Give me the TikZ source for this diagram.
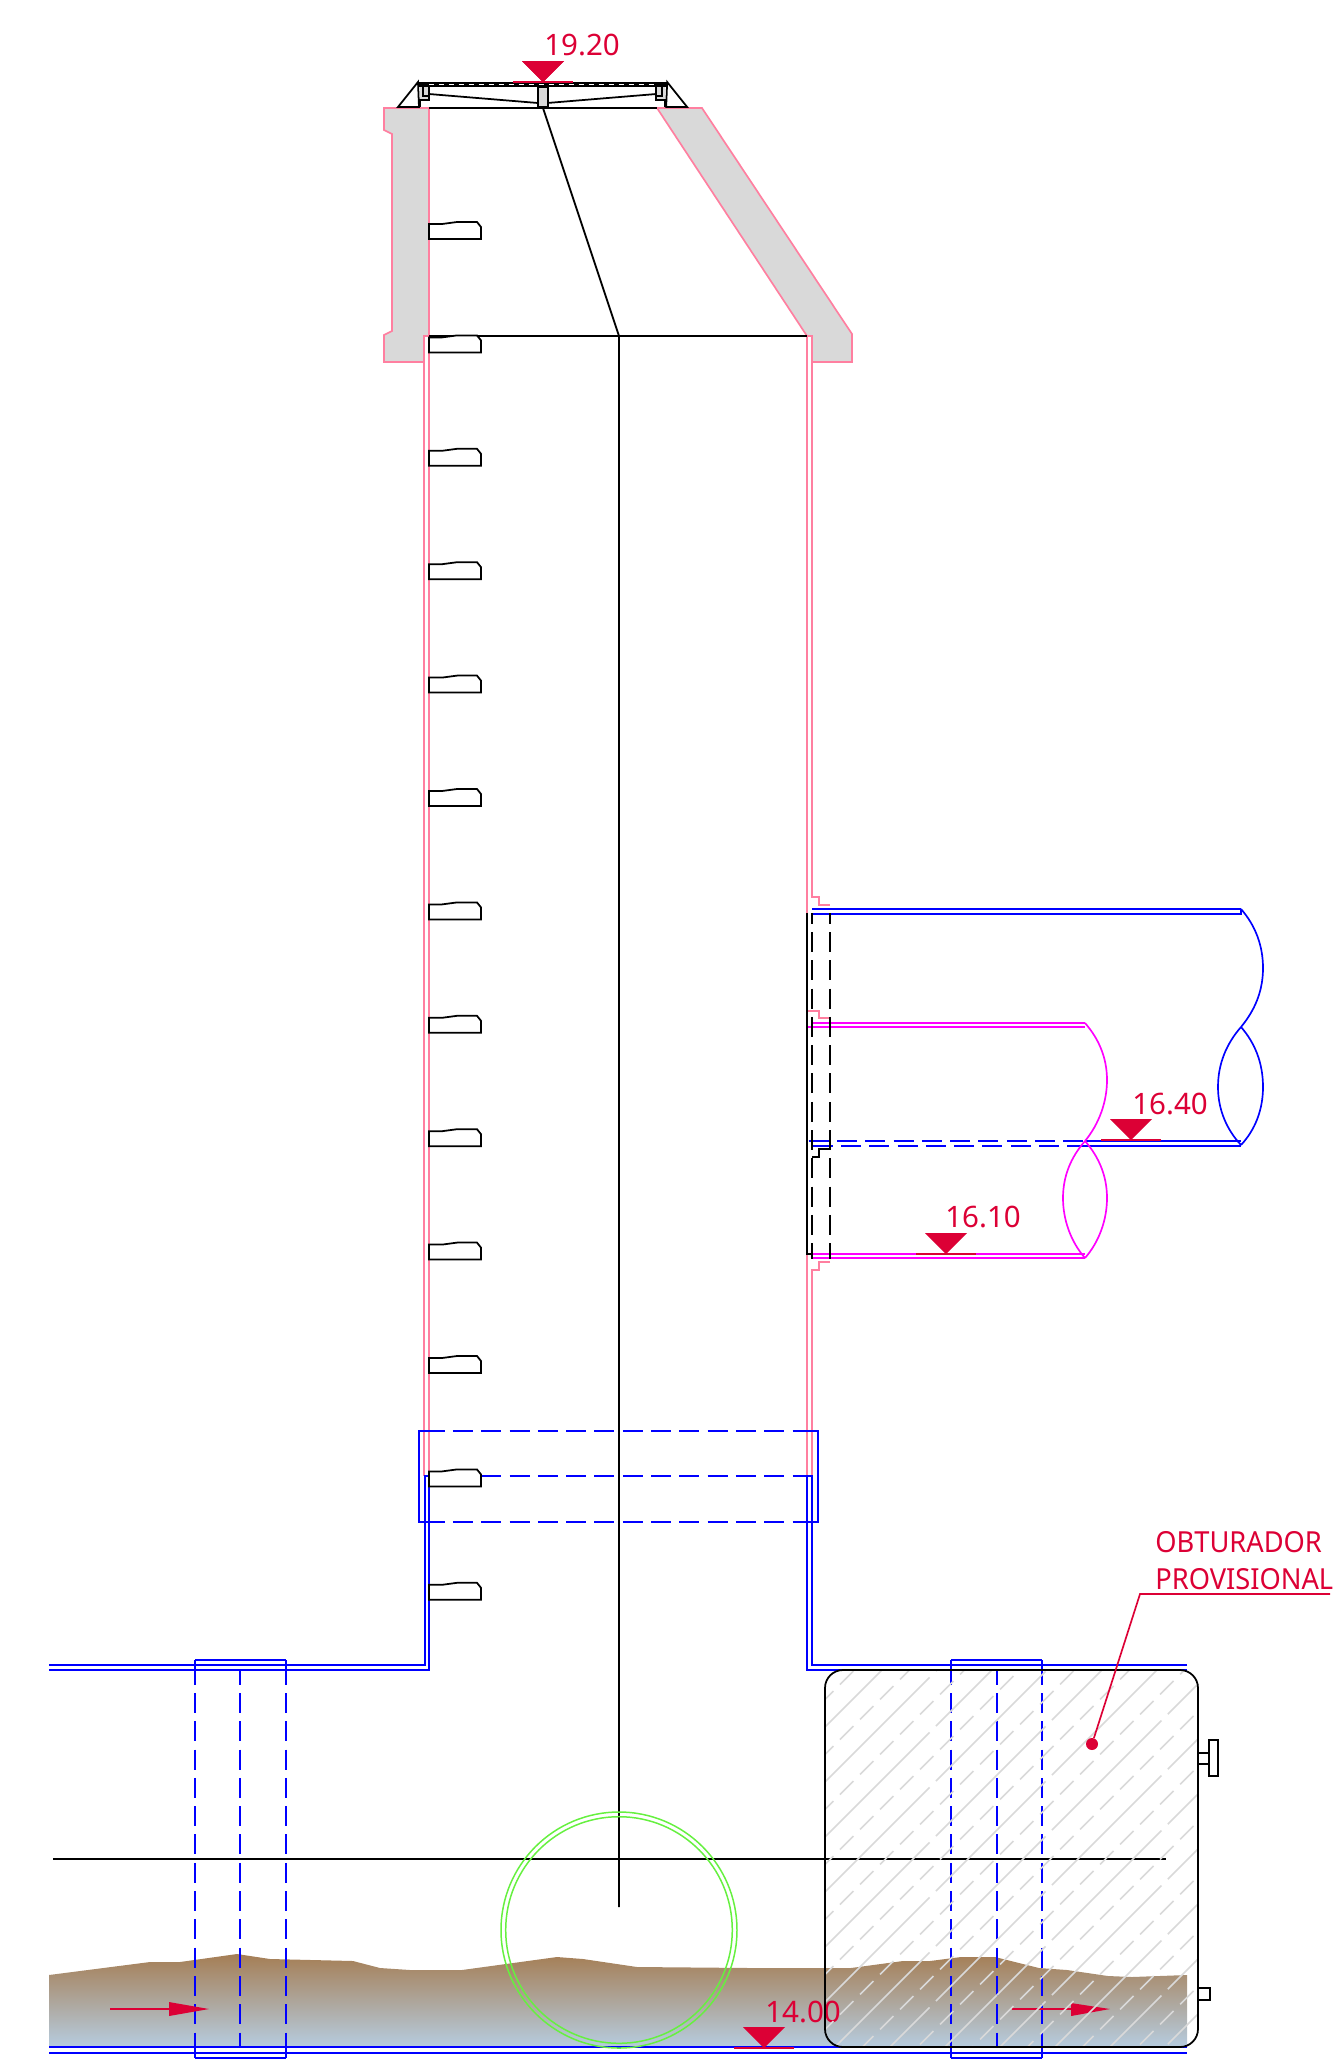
\documentclass[tikz,border=0pt]{standalone}
\usepackage{fontspec}
\setmainfont{Noto Sans}
\newfontfamily\plugfont[FakeStretch=0.94]{Noto Sans}
\definecolor{levelred}{HTML}{DC0035}
\definecolor{wallpink}{HTML}{FF7FA0}
\definecolor{concrete}{HTML}{D9D9D9}
\definecolor{pipeblue}{HTML}{0000FF}
\definecolor{pipemagenta}{HTML}{FF00FF}
\definecolor{ringgreen}{HTML}{66F040}
\definecolor{hatchgray}{HTML}{D9D9D9}
\definecolor{groundtop}{HTML}{A57E55}
\definecolor{groundmid}{HTML}{AEB0A8}
\definecolor{groundbot}{HTML}{B6CCDF}
\tikzset{
  wall/.style={wallpink, line width=0.95pt},
  pipe/.style={pipeblue, line width=0.95pt},
  branch/.style={pipemagenta, line width=0.95pt},
  blk/.style={black, line width=1pt},
  rung/.style={blk, fill=white},
  longdash/.style={dash pattern=on 0.4cm off 0.166cm},
  hatchlong/.style={hatchgray, line width=0.9pt, dash pattern=on 3.1cm off 0.18cm},
  hatchshort/.style={hatchgray, line width=0.9pt, dash pattern=on 0.38cm off 0.186cm},
  leveltext/.style={levelred, anchor=base west, inner sep=0pt, font=\fontsize{16.8pt}{20pt}\selectfont},
  plugtext/.style={levelred, anchor=base west, inner sep=0pt, font=\plugfont\fontsize{16.5pt}{20pt}\selectfont},
}
\begin{document}
\begin{tikzpicture}[x=0.02cm, y=-0.02cm]
\useasboundingbox (0,0) rectangle (1336,2067);
% Ground and water
\shade[top color=groundtop, middle color=groundmid, bottom color=groundbot] (49,1975) -- (150,1962) -- (180,1962) -- (237,1954) -- (270,1959) -- (353,1961) -- (380,1968) -- (410,1970) -- (462,1970) -- (557,1957) -- (583,1959) -- (637,1967) -- (750,1968) -- (851,1968) -- (903,1961) -- (930,1961) -- (961,1957) -- (995,1957) -- (1039,1968) -- (1067,1970) -- (1108,1976) -- (1132,1977) -- (1187,1975) -- (1187,2047) -- (49,2047) -- cycle;
% Concrete top pieces
\draw[wall, fill=concrete] (429,108) -- (384,108) -- (384,130) -- (392,134) -- (392,331) -- (384,335) -- (384,362) -- (424,362) -- (424,336) -- (429,336) -- cycle;
\draw[wall, fill=concrete] (657,108) -- (702,108) -- (852,334) -- (852,362) -- (812,362) -- (812,336) -- (807,336) -- cycle;
% Shaft walls
\draw[wall] (424,362) -- (424,1476);
\draw[wall] (429,336) -- (429,1476);
\draw[wall] (807,336) -- (807,1476);
\draw[wall] (812,362) -- (812,897) -- (819,897) -- (819,905) -- (830,905);
\draw[wall] (807,1011) -- (819,1011) -- (819,1018) -- (830,1018);
\draw[wall] (830,1262) -- (819,1262) -- (819,1270) -- (812,1270) -- (812,1476);
% Upper blue pipe
\draw[pipe] (812,909) -- (1241,909);
\draw[pipe] (812,914) -- (1241,914) -- (1241,909);
\draw[pipe] (1241,909) .. controls (1255,925) and (1263,945) .. (1263,968) .. controls (1263,991) and (1255,1010) .. (1241,1027);
\draw[pipe] (1241,1027) .. controls (1227,1043) and (1218,1063) .. (1218,1087) .. controls (1218,1110) and (1227,1130) .. (1241,1145);
\draw[pipe] (1241,1027) .. controls (1255,1043) and (1263,1063) .. (1263,1087) .. controls (1263,1110) and (1255,1130) .. (1241,1145);
\draw[pipe, longdash, dash phase=0.532cm] (807,1141) -- (1085,1141);
\draw[pipe, longdash, dash phase=0.552cm] (812,1146) -- (1068,1146);
\draw[pipe] (1085,1141) -- (1241,1141);
\draw[pipe] (1068,1146) -- (1241,1146);
% Magenta pipe
\draw[branch] (812,1023) -- (1085,1023);
\draw[branch] (807,1027) -- (1085,1027);
\draw[branch] (1085,1023) .. controls (1099,1039) and (1107,1058) .. (1107,1080) .. controls (1107,1102) and (1099,1124) .. (1085,1141);
\draw[branch] (1085,1141) .. controls (1071,1157) and (1063,1176) .. (1063,1198) .. controls (1063,1220) and (1071,1242) .. (1085,1258);
\draw[branch] (1085,1141) .. controls (1099,1157) and (1107,1176) .. (1107,1198) .. controls (1107,1220) and (1099,1242) .. (1085,1258);
\draw[branch] (807,1254) -- (1085,1254);
\draw[branch] (812,1258) -- (1085,1258);
% Black wall connection
\draw[blk] (807,913) -- (807,1254) -- (812,1254);
\draw[blk, longdash, dash phase=0.186cm] (812,913) -- (812,1259);
\draw[blk, longdash, dash phase=0.186cm] (830,913) -- (830,1259);
\draw[blk] (830,1149) -- (819,1149) -- (819,1157) -- (812,1157);
% Main channel
\draw[pipe] (49,1665) -- (425,1665) -- (425,1476) -- (429,1476) -- (429,1670) -- (49,1670);
\draw[pipe] (1187,1665) -- (812,1665) -- (812,1476) -- (807,1476) -- (807,1670) -- (1187,1670);
\draw[pipe] (49,2047) -- (1187,2047);
\draw[pipe] (49,2053) -- (1187,2053);
% Sleeve through the shaft
\draw[pipe] (443,1431) -- (419,1431) -- (419,1522) -- (443,1522);
\draw[pipe] (794,1431) -- (818,1431) -- (818,1522) -- (794,1522);
\draw[pipe, longdash, dash phase=0.086cm] (429,1476) -- (807,1476);
\foreach \y in {1431,1522}
    \draw[pipe, longdash, dash phase=0.452cm] (419,\y) -- (818,\y);
% Side stubs
\foreach \x in {195,286,951,1042} {
    \draw[pipe] (\x,1670) -- (\x,1660);
    \draw[pipe] (\x,2048) -- (\x,2058);
    \draw[pipe, longdash, dash phase=0.106cm] (\x,1670) -- (\x,2048);
}
\foreach \x in {240,997}
    \draw[pipe, longdash, dash phase=0.106cm] (\x,1670) -- (\x,2048);
\draw[pipe] (195,1660) -- (286,1660);
\draw[pipe] (195,2058) -- (286,2058);
\draw[pipe] (951,1660) -- (1042,1660);
\draw[pipe] (951,2058) -- (1042,2058);
% Axis lines
\draw[blk] (429,108) -- (657,108);
\draw[blk] (429,336) -- (807,336);
\draw[blk] (543,108) -- (619,336) -- (619,1907);
\draw[blk] (53,1859) -- (1166,1859);
% Rungs
\foreach \k in {0,...,12} {
    \pgfmathsetmacro{\y}{224+113.4*\k}
    \draw[rung] (429,\y) -- ++(13,0) -- ++(15,-2) -- ++(20,0) -- ++(4,5) -- ++(0,12) -- ++(-52,0) -- cycle;
}
% Green ring
\draw[ringgreen, line width=0.85pt] (619,1930) circle (118);
\draw[ringgreen, line width=0.85pt] (619,1930) circle (113.3);
% Flow arrows
\fill[levelred] (110,2008) rectangle (169,2010);
\fill[levelred] (169,2002) -- (209,2009) -- (169,2016) -- cycle;
\fill[levelred] (1012,2008) rectangle (1071,2010);
\fill[levelred] (1071,2003) -- (1110,2009) -- (1071,2016) -- cycle;
% Levels
\foreach \x/\y in {543/82,1131/1140,946/1254,764/2048} {
    \fill[levelred] (\x,\y) -- ++(-21,-21) -- ++(42,0) -- cycle;
    \draw[levelred, line width=0.95pt] (\x-30,\y) -- (\x+30,\y);
}
\node[leveltext] (levelTop) at (544,55) {19.20};
\node[leveltext] (levelUpper) at (1132,1114) {16.40};
\node[leveltext] (levelLower) at (945,1227) {16.10};
\node[leveltext] (levelBottom) at (765,2022) {14.00};
% Plug hatching
\begin{scope}
\clip[rounded corners=0.36cm] (825,1670) rectangle (1198,2047);
\foreach \c in {2497,2552,...,3260}
    \draw[hatchlong] (820,\c-820) -- (1205,\c-1205);
\foreach \c in {2524.5,2579.5,...,3260}
    \draw[hatchshort] (820,\c-820) -- (1205,\c-1205);
\end{scope}
% Plug outline
\draw[blk, rounded corners=0.36cm] (825,1670) rectangle (1198,2047);
\draw[blk] (1198,1753) rectangle (1209,1764);
\draw[blk] (1209,1740) rectangle (1218,1776);
\draw[blk] (1198,1988) rectangle (1210,2000);
% Cover frame
\foreach \m in {0,1} {
\begin{scope}[xshift=\m*2172*0.01cm, xscale=1-2*\m]
    \fill[concrete] (420,83) -- (429,83) -- (429,100) -- (420,100) -- (420,107) -- cycle;
    \draw[blk] (398,107) -- (418,82) -- (419,107) -- cycle;
    \draw[blk] (420,107) -- (420,100) -- (429,100) -- (429,85);
    \draw[blk] (423,83) -- (423,96) -- (429,96);
    \draw[blk] (429,94) -- (538,103);
\end{scope}
}
\fill[black] (418,81.5) rectangle (668,87);
\draw[white, line width=0.6pt, dash pattern=on 0.1cm off 0.1cm] (429,84.5) -- (657,84.5);
\draw[levelred, line width=0.95pt] (513,82) -- (573,82);
\fill[levelred] (543,82) -- (522,61) -- (564,61) -- cycle;
\draw[blk, fill=concrete] (538,87) rectangle (548,107);
% Plug label
\node[plugtext] (plugLabelTop) at (1155,1552) {OBTURADOR};
\node[plugtext] (plugLabelBottom) at (1155,1589) {PROVISIONAL};
\node[circle, fill=levelred, inner sep=0pt, minimum size=0.24cm] (plugDot) at (1092,1744) {};
\coordinate (plugElbow) at (1140,1594);
\coordinate (plugEnd) at (1330,1594);
\draw[levelred, line width=0.95pt] (plugDot) -- (plugElbow) -- (plugEnd);
\end{tikzpicture}
\end{document}
